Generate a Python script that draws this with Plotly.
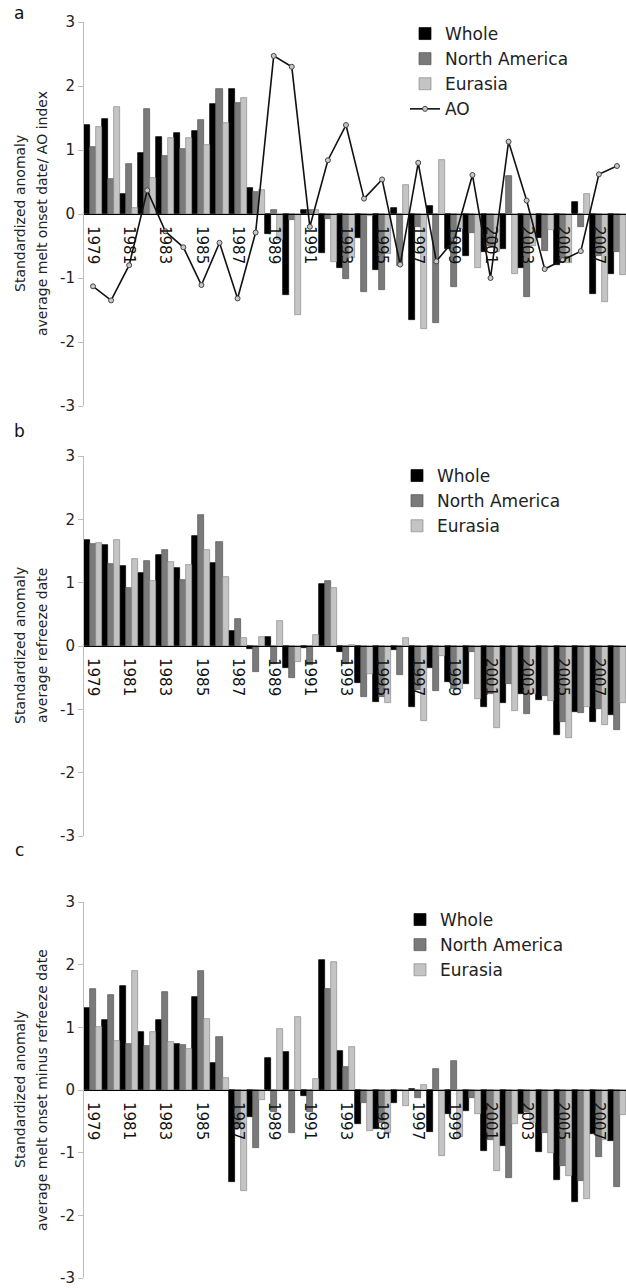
import plotly.graph_objects as go

years = list(range(1979, 2009))
tick_years = years[::2]
y_ticks = [-3, -2, -1, 0, 1, 2, 3]
y_tick_text = ["-3", "-2", "-1", "0", "1", "2", "3"]

# Panel a: melt onset date anomalies and AO index
melt_whole = [1.39, 1.48, 0.31, 0.95, 1.21, 1.26, 1.30, 1.72, 1.96, 0.40,
              -0.32, -1.27, 0.06, -0.61, -0.85, -0.38, -0.87, 0.10, -1.65, 0.13,
              -0.55, -0.66, -0.60, -0.55, -0.84, -0.37, -0.79, 0.19, -1.25, -0.94]
melt_na = [1.04, 0.55, 0.78, 1.64, 0.90, 1.01, 1.47, 1.96, 1.74, 0.35,
           0.07, -0.10, 0.06, -0.08, -1.01, -1.22, -1.19, -0.81, -0.20, -1.71,
           -1.14, -0.30, -0.50, 0.59, -1.29, -0.58, -0.70, -0.20, -0.65, -0.60]
melt_eu = [1.36, 1.67, 0.10, 0.57, 1.18, 1.19, 1.08, 1.42, 1.81, 0.37,
           -0.40, -1.58, 0.06, -0.75, -0.68, -0.03, -0.62, 0.45, -1.80, 0.84,
           -0.24, -0.84, -0.60, -0.94, -0.50, -0.25, -0.76, 0.32, -1.37, -0.95]
ao_index = [-1.13, -1.35, -0.80, 0.37, -0.27, -0.52, -1.11, -0.45, -1.32, -0.29,
            2.47, 2.30, -0.20, 0.84, 1.39, 0.24, 0.54, -0.79, 0.80, -0.74,
            -0.40, 0.61, -1.00, 1.13, 0.21, -0.86, -0.72, -0.58, 0.62, 0.75]

# Panel b: refreeze date anomalies
frz_whole = [1.67, 1.59, 1.26, 1.16, 1.43, 1.23, 1.74, 1.31, 0.23, -0.04,
             0.15, -0.35, -0.03, 0.98, -0.10, -0.58, -0.89, -0.06, -0.97, -0.35,
             -0.57, -0.60, -0.96, -0.90, -0.75, -0.85, -1.41, -1.04, -1.20, -1.09]
frz_na = [1.61, 1.30, 0.92, 1.34, 1.52, 1.04, 2.07, 1.65, 0.42, -0.41,
          -0.28, -0.51, -0.30, 1.03, -0.29, -0.80, -0.80, -0.46, -0.70, -0.71,
          -0.68, -0.09, -0.75, -0.60, -1.07, -0.79, -1.20, -1.06, -1.00, -1.33]
frz_eu = [1.62, 1.68, 1.38, 1.02, 1.33, 1.28, 1.51, 1.09, 0.13, 0.15,
          0.39, -0.25, 0.18, 0.92, 0.01, -0.44, -0.90, 0.13, -1.19, -0.16,
          -0.68, -0.83, -1.30, -1.03, -0.76, -0.87, -1.46, -0.97, -1.25, -0.90]

# Panel c: melt onset minus refreeze date anomalies
dif_whole = [1.31, 1.11, 1.66, 0.93, 1.11, 0.73, 1.49, 0.43, -1.47, -0.43,
             0.51, 0.61, -0.09, 2.08, 0.63, -0.55, -0.63, -0.20, 0.01, -0.67,
             -0.39, -0.34, -0.97, -0.89, -0.39, -0.99, -1.44, -1.79, -0.71, -0.82]
dif_na = [1.61, 1.52, 0.73, 0.71, 1.56, 0.72, 1.90, 0.85, -0.60, -0.92,
          -0.35, -0.69, -0.35, 1.61, 0.36, -0.21, -0.53, -0.02, -0.13, 0.34,
          0.46, -0.13, -0.80, -1.41, -0.35, -0.68, -1.22, -1.46, -1.07, -1.54]
dif_eu = [1.01, 0.78, 1.90, 0.93, 0.77, 0.65, 1.14, 0.19, -1.61, -0.16,
          0.97, 1.16, 0.18, 2.04, 0.68, -0.66, -0.68, -0.26, 0.08, -1.06,
          -0.75, -0.39, -1.29, -0.55, -0.53, -1.01, -1.38, -1.74, -0.80, -0.40]

series_names = ["Whole", "North America", "Eurasia"]
bar_colors = ["#000000", "#7a7a7a", "#c4c4c4"]
line_colors = ["#000000", "#555555", "#8a8a8a"]

panels = [
    dict(vals=[melt_whole, melt_na, melt_eu], letter="a",
         title=["Standardized anomaly", "average melt onset date/ AO index"]),
    dict(vals=[frz_whole, frz_na, frz_eu], letter="b",
         title=["Standardized anomaly", "average refreeze date"]),
    dict(vals=[dif_whole, dif_na, dif_eu], letter="c",
         title=["Standardized anomaly", "average melt onset minus refreeze date"]),
]

H = 1288
W = 626
L = 84
FONT = "DejaVu Sans"

# pixel extents (top, bottom) of each panel's y range [-3, 3]
pix = [(22, 406), (456, 836), (902, 1278)]
legend_top = [16, 458, 902]
legend_left = [405, 397, 400]
letter_y = [13, 431, 850]

fig = go.Figure()
annotations = []
layout = dict(
    width=W, height=H, autosize=False,
    margin=dict(l=L, r=0, t=0, b=0, pad=0),
    paper_bgcolor="white", plot_bgcolor="white",
    barmode="group", bargap=0.0, bargroupgap=0.0,
    font=dict(family=FONT, color="#222222"),
    showlegend=True,
)

plot_w = W - L
for k, p in enumerate(panels):
    sfx = "" if k == 0 else str(k + 1)
    xa, ya = "x" + sfx, "y" + sfx
    lg = "legend" + sfx
    top, bot = pix[k]
    d0, d1 = 1 - bot / H, 1 - top / H
    for name, vals, col, lc in zip(series_names, p["vals"], bar_colors, line_colors):
        fig.add_trace(go.Bar(
            x=years, y=vals, name=name, xaxis=xa, yaxis=ya, legend=lg,
            marker=dict(color=col, line=dict(color=lc, width=0.7)),
        ))
    if k == 0:
        fig.add_trace(go.Scatter(
            x=years, y=ao_index, name="AO", mode="lines+markers",
            xaxis=xa, yaxis=ya, legend=lg,
            line=dict(color="#111111", width=1.6),
            marker=dict(size=5, color="#c8c8c8", line=dict(color="#444444", width=1)),
        ))
    yr = [-3, 3]
    zero_pos = d0 + (0 - yr[0]) / (yr[1] - yr[0]) * (d1 - d0)
    layout["xaxis" + sfx] = dict(
        domain=[0, 1], range=[years[0] - 0.5, years[-1] + 0.5],
        anchor="free", position=zero_pos, automargin=False,
        tickmode="array", tickvals=tick_years, ticktext=[str(t) for t in tick_years],
        tickangle=90, ticks="", ticklabelstandoff=8,
        showgrid=False, zeroline=False,
        showline=True, linecolor="#000000", linewidth=1,
        tickfont=dict(family=FONT, size=15, color="#111111"),
    )
    layout["yaxis" + sfx] = dict(
        domain=[d0, d1], range=yr, anchor=xa, automargin=False,
        tickmode="array", tickvals=y_ticks, ticktext=y_tick_text,
        ticks="outside", ticklen=5, tickcolor="#bdbdbd",
        ticklabeloverflow="allow",
        showline=True, linecolor="#bdbdbd", linewidth=1,
        showgrid=False, zeroline=False,
        tickfont=dict(family=FONT, size=15, color="#222222"),
    )
    layout[lg] = dict(
        x=(legend_left[k] - L) / plot_w, y=1 - legend_top[k] / H,
        xanchor="left", yanchor="top",
        bgcolor="rgba(0,0,0,0)", tracegroupgap=0,
        font=dict(family=FONT, size=17, color="#222222"),
        itemwidth=30,
    )
    # panel letter
    annotations.append(dict(
        text=p["letter"], xref="paper", yref="paper",
        x=(19 - L) / plot_w, y=1 - letter_y[k] / H,
        xanchor="center", yanchor="middle", showarrow=False,
        font=dict(family=FONT, size=17, color="#111111"),
    ))
    # y-axis title (two lines)
    ymid = (d0 + d1) / 2
    for line_txt, px in zip(p["title"], [20, 42]):
        annotations.append(dict(
            text=line_txt, xref="paper", yref="paper",
            x=(px - L) / plot_w, y=ymid, textangle=-90,
            xanchor="center", yanchor="middle", showarrow=False,
            font=dict(family=FONT, size=14, color="#222222"),
        ))

layout["annotations"] = annotations
fig.update_layout(**layout)

page_fix = (
    "var h=document.documentElement.style;h.margin='0';h.padding='0';h.overflow='hidden';"
    "var b=document.body.style;b.margin='0';b.padding='0';b.overflow='hidden';"
    "var d=document.getElementById('{plot_id}');"
    "d.style.position='fixed';d.style.left='0px';d.style.top='0px';"
)
fig.write_html("out.html", config={"displayModeBar": False}, post_script=page_fix)
